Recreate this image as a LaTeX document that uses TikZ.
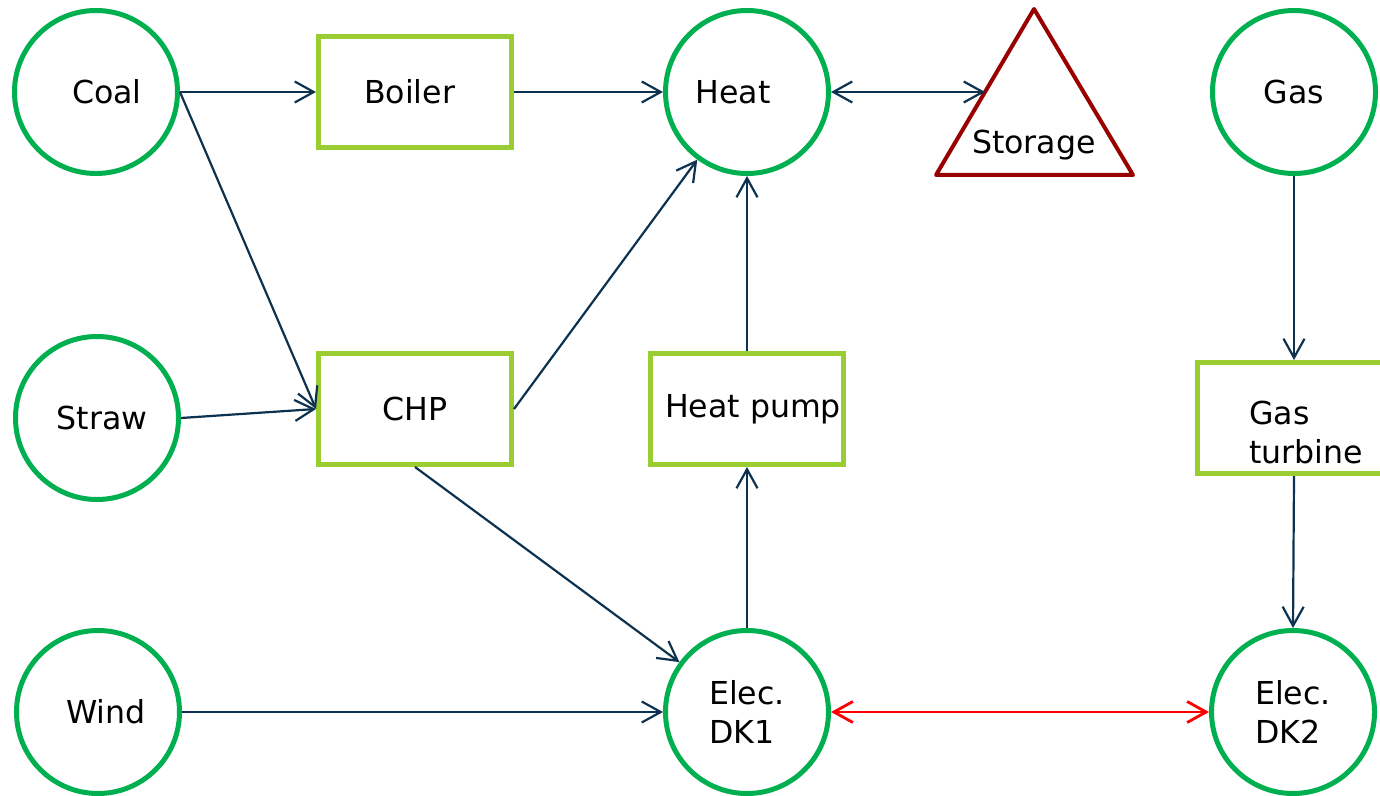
\documentclass[tikz,border=0pt]{standalone}
\usepackage{fontspec}
\setmainfont{DejaVu Sans}
\usetikzlibrary{arrows.meta}
\definecolor{hubgreen}{RGB}{0,176,80}
\definecolor{unitgreen}{RGB}{154,205,50}
\definecolor{storred}{RGB}{153,0,0}
\definecolor{flowblue}{RGB}{12,50,80}
\definecolor{linkred}{RGB}{255,0,0}

\begin{document}
\begin{tikzpicture}[x=0.5pt, y=-0.5pt,
    font=\fontsize{15.8}{19.5}\selectfont,
    hub/.style={circle, draw=hubgreen, line width=2.5pt, minimum size=81.5pt, inner sep=0pt, align=left},
    unit/.style={rectangle, draw=unitgreen, line width=2.5pt, minimum width=96.5pt, minimum height=55.5pt, inner sep=0pt, align=left},
    flow/.style={draw=flowblue, line width=1.1pt, -{Straight Barb[length=9.5pt,width=10.5pt]}},
    link/.style={draw=linkred, line width=1.4pt, {Straight Barb[length=9.5pt,width=10.5pt]}-{Straight Barb[length=9.5pt,width=10.5pt]}}]

        \useasboundingbox (0,0) rectangle (1380,796);

        % Fuels and demands
        \node[hub] (coal)  at (96,92)   {\hspace*{11pt}Coal};
        \node[hub] (straw) at (97,418)  {\hspace*{5pt}Straw};
        \node[hub] (wind)  at (98,712)  {\hspace*{8pt}Wind};
        \node[hub] (heat)  at (747,92)  {Heat\hspace*{14pt}};
        \node[hub] (gas)   at (1294,92) {Gas};
        \node[hub] (dkone) at (747,712) {Elec.\\DK1};
        \node[hub] (dktwo) at (1293,712) {Elec.\\DK2};

        % Conversion units
        \node[unit] (boiler)  at (415,92)   {Boiler\hspace*{5.5pt}};
        \node[unit] (chp)     at (415,409)  {CHP};
        \node[unit] (hpump)   at (747,409)  {\hspace*{6pt}Heat pump};
        \node[unit] (turbine) at (1294,418)
            [label={[align=left, xshift=6pt, yshift=-7pt]center:Gas\\turbine}] {};

        % Storage triangle
        \draw[storred, line width=2pt, line join=round] (1034,9) -- (1133,175) -- (936,175) -- cycle;
        \node (storage) at (1034,145) {Storage};
        \coordinate (stor) at (985,92);

        % Flows
        \draw[flow] (coal.east) -- (boiler.west);
        \draw[flow] (boiler.east) -- (heat.west);
        \draw[flow] (coal.east) -- (chp.west);
        \draw[flow] (straw.east) -- (chp.west);
        \draw[flow] (chp.east) -- (heat);
        \draw[flow] (hpump.north) -- (heat.south);
        \draw[flow] (chp.south) -- (dkone);
        \draw[flow] (dkone.north) -- (hpump.south);
        \draw[flow] (wind.east) -- (dkone.west);
        \draw[flow] (gas.south) -- (turbine.north);
        \draw[flow] (turbine.south) -- (dktwo.north);
        \draw[flow, {Straight Barb[length=9.5pt,width=10.5pt]}-{Straight Barb[length=9.5pt,width=10.5pt]}] (heat.east) -- (stor);
        \draw[link] (dkone.east) -- (dktwo.west);

      \end{tikzpicture}
\end{document}
